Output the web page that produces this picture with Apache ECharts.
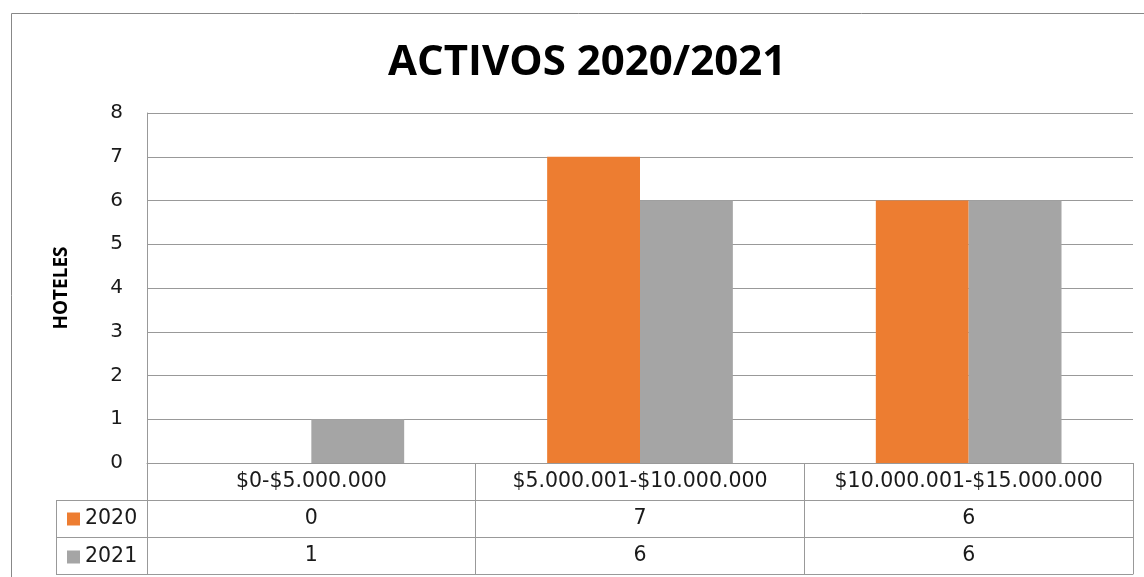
<!DOCTYPE html>
<html>
<head>
<meta charset="utf-8">
<script src="https://cdn.jsdelivr.net/npm/echarts@6/dist/echarts.min.js"></script>
<style>
  html, body { margin: 0; padding: 0; background: #fff; }
  #chart { width: 1144px; height: 577px; }
</style>
</head>
<body>
<div id="chart"></div>
<script>
// datos
const categorias = ['$0-$5.000.000', '$5.000.001-$10.000.000', '$10.000.001-$15.000.000'];
const activos2020 = [0, 7, 6];
const activos2021 = [1, 6, 6];
const yTicks = [0, 1, 2, 3, 4, 5, 6, 7, 8];

// layout
const gridLeft = 147;
const gridTop = 113;
const gridRight = 11;
const gridBottom = 114;
const rowH = 37;
const tablaLeft = 56;
const lineColor = '#999';
const textColor = '#1a1a1a';
const fontTabla = 'DejaVu Sans';
const sizeTabla = 20.5;

const chart = echarts.init(document.getElementById('chart'));
const ejeY = 577 - gridBottom;

// filas de la tabla como ejes x desplazados
function ejeTabla(offset, valores) {
  return {
    type: 'category',
    data: categorias,
    position: 'bottom',
    offset: offset,
    axisLine: { show: true, lineStyle: { color: lineColor } },
    axisTick: { show: false },
    axisLabel: {
      show: !!valores,
      interval: 0,
      margin: 8,
      color: textColor,
      fontFamily: fontTabla,
      fontSize: sizeTabla,
      formatter: (v, i) => valores ? String(valores[i]) : ''
    },
    splitLine: { show: false }
  };
}

// lineas de la columna de leyenda
const lineasLeyenda = [];
for (let k = 1; k <= 3; k++) {
  const y = ejeY + rowH * k + 0.5;
  lineasLeyenda.push({
    type: 'line',
    shape: { x1: tablaLeft, y1: y, x2: gridLeft, y2: y },
    style: { stroke: lineColor, lineWidth: 1 }
  });
}
lineasLeyenda.push({
  type: 'line',
  shape: { x1: tablaLeft + 0.5, y1: ejeY + rowH, x2: tablaLeft + 0.5, y2: ejeY + rowH * 3 },
  style: { stroke: lineColor, lineWidth: 1 }
});

const option = {
  animation: false,
  backgroundColor: '#fff',
  title: {
    text: 'ACTIVOS 2020/2021',
    left: 388,
    top: 42,
    padding: 0,
    textStyle: { fontFamily: 'Open Sans', fontWeight: 'bold', fontSize: 42, color: '#000' }
  },
  legend: {
    orient: 'vertical',
    left: 67,
    top: ejeY + rowH + 8.5,
    padding: 0,
    itemGap: 17,
    itemWidth: 13,
    itemHeight: 13,
    icon: 'rect',
    selectedMode: false,
    data: ['2020', '2021'],
    textStyle: { fontFamily: fontTabla, fontSize: sizeTabla, lineHeight: 20, color: textColor }
  },
  grid: { left: gridLeft, right: gridRight, top: gridTop, bottom: gridBottom, containLabel: false },
  xAxis: [
    {
      type: 'category',
      data: categorias,
      position: 'bottom',
      axisLine: { show: true, lineStyle: { color: lineColor } },
      axisTick: { show: true, interval: 0, length: rowH * 3, lineStyle: { color: lineColor } },
      axisLabel: { interval: 0, margin: 8, color: textColor, fontFamily: fontTabla, fontSize: sizeTabla },
      splitLine: { show: false }
    },
    ejeTabla(rowH, activos2020),
    ejeTabla(rowH * 2, activos2021),
    ejeTabla(rowH * 3, null)
  ],
  yAxis: {
    type: 'value',
    min: yTicks[0],
    max: yTicks[yTicks.length - 1],
    interval: 1,
    name: 'HOTELES',
    nameLocation: 'middle',
    nameGap: 76,
    nameRotate: 90,
    nameTextStyle: { fontFamily: 'Open Sans', fontWeight: 'bold', fontSize: 19, color: '#000' },
    axisLine: { show: true, lineStyle: { color: lineColor } },
    axisTick: { show: false },
    axisLabel: { margin: 24, color: textColor, fontFamily: fontTabla, fontSize: 20 },
    splitLine: { show: true, lineStyle: { color: lineColor, width: 1 } }
  },
  series: [
    {
      name: '2020',
      type: 'bar',
      data: activos2020,
      barGap: '0%',
      barCategoryGap: '43.5%',
      itemStyle: { color: '#ED7D31' }
    },
    {
      name: '2021',
      type: 'bar',
      data: activos2021,
      itemStyle: { color: '#A5A5A5' }
    }
  ],
  graphic: [
    {
      type: 'rect',
      z: -10,
      shape: { x: 11.5, y: 13.5, width: 1200, height: 700 },
      style: { fill: 'none', stroke: '#888', lineWidth: 1 }
    }
  ].concat(lineasLeyenda)
};

chart.setOption(option);
</script>
</body>
</html>
